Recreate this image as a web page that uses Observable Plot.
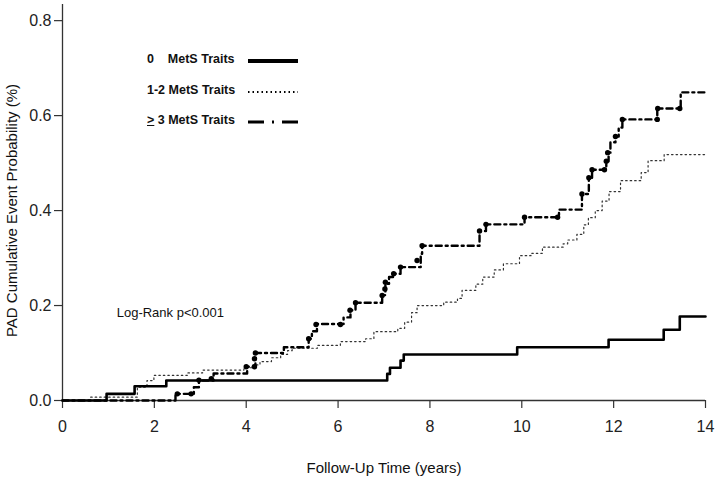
<!DOCTYPE html>
<html>
<head>
<meta charset="utf-8">
<script src="https://cdn.jsdelivr.net/npm/d3@7"></script>
<script src="https://cdn.jsdelivr.net/npm/@observablehq/plot@0.6"></script>
<style>
  body { margin: 0; background: #fff; }
  #wrap { position: relative; width: 717px; height: 484px; font-family: "Liberation Sans", Arial, sans-serif; }
  #legend { position: absolute; left: 147px; top: 50px; font-weight: bold; font-size: 12.5px; color: #111; }
  .row { position: absolute; left: 0; white-space: nowrap; height: 20px; }
  .row span.lab { position: absolute; left: 0; top: 2px; }
  .row svg { position: absolute; left: 101px; top: 1px; }
</style>
</head>
<body>
<div id="wrap">
  <div id="chart"></div>
  <div id="legend"></div>
</div>
<script>
// ---- Data ----
const xTicks = [0, 2, 4, 6, 8, 10, 12, 14];
const yTicks = [0, 0.2, 0.4, 0.6, 0.8];

const groupNames = ["0    MetS Traits", "1-2 MetS Traits", "> 3 MetS Traits"];

// 0 MetS Traits (solid)
const t0 = [0, 0.96, 1.57, 2.26, 7.07, 7.13, 7.36, 7.43, 9.90, 11.89, 13.09, 13.44, 14];
const v0 = [0, 0.014, 0.030, 0.042, 0.056, 0.069, 0.084, 0.097, 0.112, 0.128, 0.149, 0.177, 0.177];

// 1-2 MetS Traits (dotted)
const t12 = [0, 0.61, 1.63, 1.84, 1.99, 2.72, 3.05, 3.95, 4.15, 4.3, 4.55, 4.75, 4.9, 5.0, 5.55, 6.05, 6.6, 6.78, 7.3, 7.45, 7.6, 7.72, 8.3, 8.6, 8.7, 9.0, 9.15, 9.4, 9.6, 9.95, 10.2, 10.45, 10.9, 11.0, 11.2, 11.35, 11.45, 11.6, 11.75, 11.9, 12.15, 12.6, 12.75, 13.1, 14];
const v12 = [0, 0.007, 0.028, 0.042, 0.053, 0.058, 0.064, 0.069, 0.075, 0.082, 0.09, 0.097, 0.105, 0.11, 0.116, 0.124, 0.13, 0.145, 0.152, 0.165, 0.185, 0.2, 0.207, 0.215, 0.232, 0.245, 0.26, 0.275, 0.288, 0.305, 0.31, 0.323, 0.33, 0.338, 0.35, 0.37, 0.385, 0.40, 0.42, 0.44, 0.463, 0.48, 0.505, 0.518, 0.518];

// >= 3 MetS Traits (dash-dot)
const t3 = [0, 2.46, 2.86, 2.97, 3.29, 4.02, 4.2, 4.21, 4.82, 5.36, 5.43, 5.54, 6.12, 6.27, 6.38, 6.96, 7.03, 7.11, 7.21, 7.36, 7.8, 7.83, 9.08, 9.22, 10.06, 10.81, 11.31, 11.46, 11.53, 11.84, 11.89, 11.93, 12.04, 12.11, 12.19, 12.95, 13.46, 14];
const v3 = [0, 0.014, 0.028, 0.042, 0.057, 0.071, 0.088, 0.10, 0.112, 0.13, 0.146, 0.161, 0.175, 0.19, 0.206, 0.222, 0.246, 0.26, 0.267, 0.281, 0.309, 0.326, 0.357, 0.371, 0.386, 0.402, 0.435, 0.469, 0.486, 0.504, 0.522, 0.544, 0.556, 0.575, 0.592, 0.615, 0.649, 0.649];

// markers on the >= 3 curve
const mT = [2.50, 2.80, 2.97, 3.24, 4.00, 4.18, 4.18, 4.20, 5.36, 5.52, 6.05, 6.26, 6.38, 6.96, 7.02, 7.03, 7.21, 7.36, 7.72, 7.83, 9.08, 9.22, 10.06, 10.78, 11.31, 11.46, 11.53, 11.80, 11.84, 11.87, 12.04, 12.19, 12.95, 12.96, 13.44];
const mV = [0.014, 0.014, 0.043, 0.046, 0.071, 0.071, 0.088, 0.100, 0.130, 0.160, 0.160, 0.190, 0.206, 0.221, 0.235, 0.249, 0.267, 0.281, 0.295, 0.326, 0.357, 0.371, 0.386, 0.386, 0.435, 0.469, 0.486, 0.486, 0.504, 0.522, 0.556, 0.592, 0.592, 0.615, 0.615];

const annotation = [{x: 1.18, y: 0.185, text: "Log-Rank p<0.001"}];
const xLabel = "Follow-Up Time (years)";
const yLabel = "PAD Cumulative Event Probability (%)";

// ---- Build tables ----
const s0 = t0.map((t, i) => ({t, v: v0[i]}));
const s12 = t12.map((t, i) => ({t, v: v12[i]}));
const s3 = t3.map((t, i) => ({t, v: v3[i]}));
const marks3 = mT.map((t, i) => ({t, v: mV[i]}));

const chart = Plot.plot({
  width: 717,
  height: 484,
  marginLeft: 62,
  marginRight: 12,
  marginTop: 4,
  marginBottom: 84,
  style: {fontFamily: "Liberation Sans, Arial, sans-serif", fontSize: "16px", color: "#222", background: "#fff"},
  x: {domain: [0, 14]},
  y: {domain: [0, 0.834]},
  marks: [
    Plot.axisX({ticks: xTicks, tickSize: 8, tickPadding: 12, label: null, stroke: "#333", strokeWidth: 1.2}),
    Plot.axisY({ticks: yTicks, tickFormat: d3.format(".1f"), tickSize: 8, tickPadding: 3, label: null, stroke: "#333", strokeWidth: 1.2}),
    Plot.ruleX([0], {stroke: "#333", strokeWidth: 1.3}),
    Plot.ruleY([0], {stroke: "#333", strokeWidth: 1.3}),
    Plot.line(s12, {x: "t", y: "v", curve: "step-after", stroke: "#333", strokeWidth: 1.2, strokeDasharray: "1.5,3"}),
    Plot.line(s3, {x: "t", y: "v", curve: "step-after", stroke: "#000", strokeWidth: 2.4, strokeDasharray: "6,4,2,4"}),
    Plot.dot(marks3, {x: "t", y: "v", r: 2.7, fill: "#000", stroke: "none"}),
    Plot.line(s0, {x: "t", y: "v", curve: "step-after", stroke: "#000", strokeWidth: 2.6}),
    Plot.text(annotation, {x: "x", y: "y", text: "text", textAnchor: "start", fontSize: 13, fill: "#111"}),
    Plot.text([xLabel], {frameAnchor: "bottom", dy: 72, text: d => d, fontSize: 15, fill: "#111"}),
    Plot.text([yLabel], {frameAnchor: "left", textAnchor: "middle", dx: -50, dy: 8, rotate: -90, text: d => d, fontSize: 15, fill: "#111"})
  ]
});
document.getElementById("chart").appendChild(chart);

// ---- Legend (HTML overlay) ----
const legendStyles = [
  {dash: null, width: 4},
  {dash: "1.5,3", width: 1.8},
  {dash: "16,8,2,8", width: 3}
];
const legend = document.getElementById("legend");
groupNames.forEach((name, i) => {
  const row = document.createElement("div");
  row.className = "row";
  row.style.top = (i * 30.5) + "px";
  const lab = document.createElement("span");
  lab.className = "lab";
  if (i === 0) {
    lab.innerHTML = "0&nbsp;&nbsp;&nbsp;&nbsp;" + name.replace(/^0\s+/, "");
  } else if (i === 2) {
    lab.innerHTML = '<span style="text-decoration:underline">&gt;</span>' + name.slice(1);
  } else {
    lab.textContent = name;
  }
  row.appendChild(lab);
  const ls = legendStyles[i];
  const svg = d3.create("svg").attr("width", 52).attr("height", 20);
  svg.append("line").attr("x1", 0).attr("x2", 50).attr("y1", 10).attr("y2", 10)
    .attr("stroke", "#000").attr("stroke-width", ls.width)
    .attr("stroke-dasharray", ls.dash);
  row.appendChild(svg.node());
  legend.appendChild(row);
});
</script>
</body>
</html>
